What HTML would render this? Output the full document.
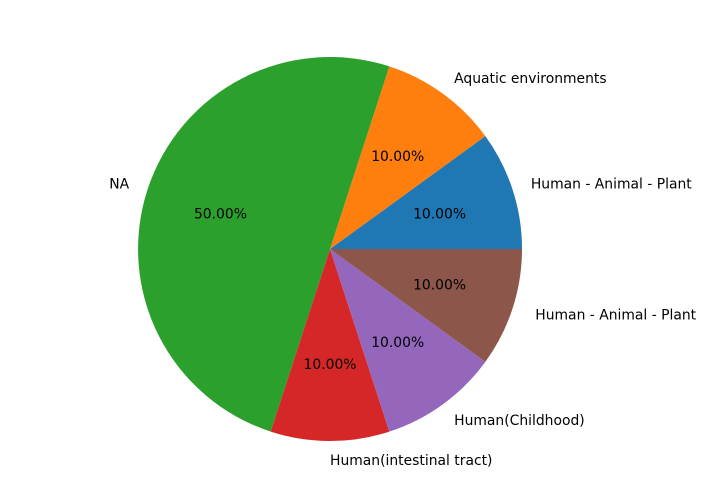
<!DOCTYPE html>
<html><head><meta charset="utf-8"><style>
body{margin:0;background:#fff;}
svg text{font-family:"DejaVu Sans","Liberation Sans",sans-serif;font-size:13.9px;fill:#000;white-space:pre;}
</style></head><body>
<svg id="chart" width="705" height="499" viewBox="0 0 705 499" xmlns="http://www.w3.org/2000/svg"></svg>
<script>
const labels = ["Human - Animal - Plant","Aquatic environments","NA","Human(intestinal tract)","Human(Childhood)"," Human - Animal - Plant"];
const values = [1,1,5,1,1,1];
const colors = ["#1f77b4","#ff7f0e","#2ca02c","#d62728","#9467bd","#8c564b"];
const svg = document.getElementById('chart');
const NS = "http://www.w3.org/2000/svg";
const cx = 330, cy = 249, r = 192;
const total = values.reduce((a,b)=>a+b,0);
let start = 0;
values.forEach((v,i)=>{
  const sweep = v/total*2*Math.PI;
  const a0 = start, a1 = start+sweep;
  const x0 = cx + r*Math.cos(a0), y0 = cy - r*Math.sin(a0);
  const x1 = cx + r*Math.cos(a1), y1 = cy - r*Math.sin(a1);
  const large = sweep > Math.PI ? 1 : 0;
  const p = document.createElementNS(NS,'path');
  p.setAttribute('d',`M${cx},${cy} L${x0},${y0} A${r},${r} 0 ${large} 0 ${x1},${y1} Z`);
  p.setAttribute('fill',colors[i]);
  
  
  svg.appendChild(p);
  const mid = (a0+a1)/2;
  const c = Math.cos(mid), s = Math.sin(mid);
  const lt = document.createElementNS(NS,'text');
  lt.setAttribute('x', cx + 1.1*r*c);
  lt.setAttribute('y', cy - 1.1*r*s + 5);
  lt.setAttribute('text-anchor', c < -1e-9 ? 'end' : 'start');
  lt.textContent = labels[i];
  
  
  svg.appendChild(lt);
  const pt = document.createElementNS(NS,'text');
  pt.setAttribute('x', cx + 0.6*r*c);
  pt.setAttribute('y', cy - 0.6*r*s + 5);
  pt.setAttribute('text-anchor','middle');
  pt.textContent = (v/total*100).toFixed(2)+'%';
  
  
  svg.appendChild(pt);
  start = a1;
});
</script>
</body></html>
